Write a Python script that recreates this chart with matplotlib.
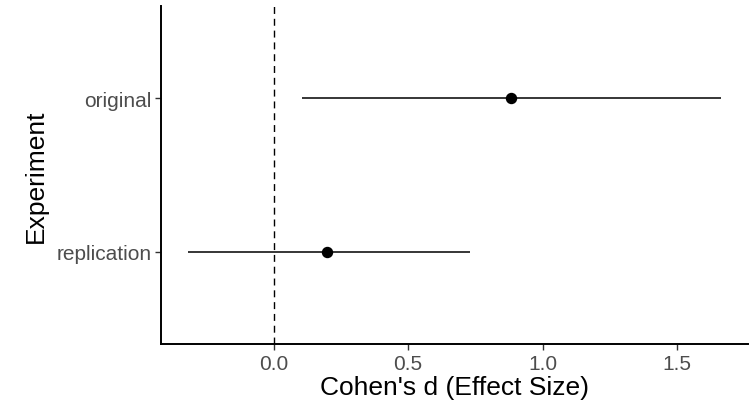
import matplotlib.pyplot as plt

experiments = ["replication", "original"]
effect = [0.20, 0.884]
ci_low = [-0.319, 0.104]
ci_high = [0.731, 1.664]
xticks = [0.0, 0.5, 1.0, 1.5]

plt.rcParams["font.family"] = ["Liberation Sans", "DejaVu Sans"]

fig = plt.figure(figsize=(7.56, 4.10), dpi=100)
ax = fig.add_axes([161 / 756, 1 - 345 / 410, (748 - 161) / 756, (345 - 7) / 410])

ypos = list(range(1, len(experiments) + 1))
ax.axvline(0, color="black", lw=1.0, dashes=(5, 3.5), zorder=1)
ax.hlines(ypos, ci_low, ci_high, color="black", lw=1.1, zorder=2)
ax.plot(effect, ypos, "o", color="black", ms=7.2, zorder=3)

lo, hi = min(ci_low), max(ci_high)
pad = (hi - lo) * 0.05
ax.set_xlim(lo - pad, hi + pad)
ax.set_ylim(0.4, 2.6)
ax.set_xticks(xticks)
ax.set_xticklabels(["%.1f" % t for t in xticks])
ax.set_yticks(ypos)
ax.set_yticklabels(experiments)

for side in ["top", "right"]:
    ax.spines[side].set_visible(False)
for side in ["left", "bottom"]:
    ax.spines[side].set_linewidth(1.4)
ax.tick_params(axis="both", colors="#333333", length=4, width=1.0, labelsize=15, labelcolor="#4d4d4d", pad=3)

ax.set_xlabel("Cohen's d (Effect Size)", fontsize=19, labelpad=2)
ax.set_ylabel("Experiment", fontsize=19, labelpad=6)

fig.savefig("out.png", dpi=100)
